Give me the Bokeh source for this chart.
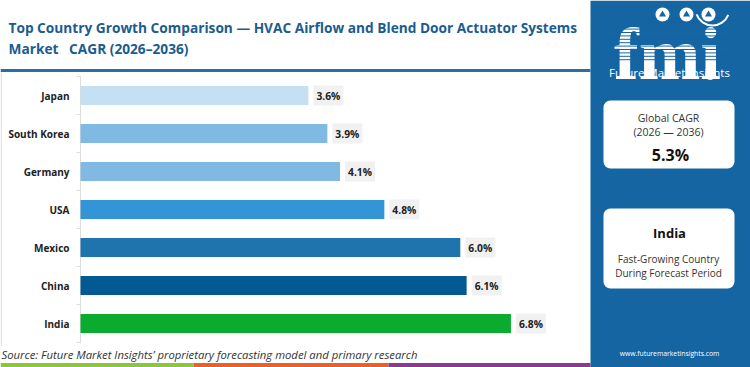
from bokeh.plotting import figure
from bokeh.models import Range1d, BoxAnnotation
from bokeh.core.properties import value
from bokeh.embed import file_html
from bokeh.resources import INLINE

# ---------------- data ----------------
countries = ["Japan", "South Korea", "Germany", "USA", "Mexico", "China", "India"]
cagr = [3.6, 3.9, 4.1, 4.8, 6.0, 6.1, 6.8]
bar_colors = ["#c4e0f2", "#80bae2", "#80bae2", "#3394d6", "#1f74ae", "#035a92", "#0bab2f"]
value_labels = [f"{v:.1f}%" for v in cagr]
title_lines = ["Top Country Growth Comparison \u2014 HVAC Airflow and Blend Door Actuator Systems",
               "Market\u00a0\u00a0\u00a0CAGR (2026\u20132036)"]
global_cagr_lines = ["Global CAGR", "(2026 \u2014 2036)"]
global_cagr_value = "5.3%"
fastest_country = "India"
fastest_lines = ["Fast-Growing Country", "During Forecast Period"]
brand = "Future Market Insights"
website = "www.futuremarketinsights.com"
source_note = "Source: Future Market Insights\u2019 proprietary forecasting model and primary research"

# ---------------- layout (reference pixel design space) ----------------
W, H = 750, 367
X0, PPU = 80, 63.3       # zero position and px per CAGR unit
ROW0, ROWSTEP = 95, 38   # first row centre and row spacing
FONT = "Open Sans"
BLUE = "#1565a3"

p = figure(width=W, height=H, output_backend="svg", toolbar_location=None, tools="",
           x_range=Range1d(-X0 / PPU, (W - X0) / PPU),
           y_range=Range1d((H - ROW0) / ROWSTEP, -ROW0 / ROWSTEP),
           x_axis_location=None, y_axis_location=None, min_border=0,
           outline_line_color=None, background_fill_color="white", border_fill_color="white")
p.xgrid.visible = False
p.ygrid.visible = False
p.extra_x_ranges = {"px": Range1d(0, W)}
p.extra_y_ranges = {"px": Range1d(H, 0)}
PX = dict(x_range_name="px", y_range_name="px")

# right blue panel
p.add_layout(BoxAnnotation(left=590, right=W, top=0, bottom=H, fill_color=BLUE, fill_alpha=1,
                           line_color=None, level="underlay", **PX))
# white cards
for top, bottom in [(100, 168), (208, 288)]:
    p.add_layout(BoxAnnotation(left=603, right=734, top=top, bottom=bottom, fill_color="white",
                               fill_alpha=1, line_color=None, border_radius=7, level="underlay", **PX))

# bottom colour strip
p.quad(left=[0, 193, 388], right=[193, 388, 590], top=[362.5] * 3, bottom=[H] * 3,
       fill_color=["#8cc63f", "#e8602c", "#8b3a8f"], line_color=None, **PX)

# title rule
p.segment(x0=[0], x1=[590], y0=[70], y1=[70], line_color="#2a6ea3", line_width=3, **PX)
# left faint border
p.segment(x0=[0.7], x1=[0.7], y0=[72], y1=[346], line_color="#dedede", line_width=1.2, **PX)

# title
p.text(x=[8, 8], y=[27, 48], text=title_lines, text_font=value(FONT), text_font_style="bold",
       text_font_size="13.7px", text_color="#1b5c8f", text_baseline="middle", **PX)

# axis line and ticks
p.segment(x0=[X0], x1=[X0], y0=[76], y1=[343], line_color="#dddddd", line_width=1, **PX)
ticks = [ROW0 + ROWSTEP * (i - 0.5) for i in range(len(countries) + 1)]
p.segment(x0=[X0 - 4] * len(ticks), x1=[X0] * len(ticks), y0=ticks, y1=ticks,
          line_color="#dddddd", line_width=1, **PX)

# bars
idx = list(range(len(countries)))
p.hbar(y=idx, left=0, right=cagr, height=0.5, fill_color=bar_colors, line_color=None)

# category labels
p.text(x=[0] * len(countries), y=idx, text=countries, x_offset=-11, text_align="right",
       text_baseline="middle", text_font=value(FONT), text_font_style="bold",
       text_font_size="10px", text_color="#222222")

# value labels
p.text(x=cagr, y=idx, text=value_labels, x_offset=5, text_align="left", text_baseline="middle",
       text_font=value(FONT), text_font_style="bold", text_font_size="10.3px", text_color="#222222",
       background_fill_color="#f1f1f1", padding=3)

# source
p.text(x=[1], y=[354], text=[source_note], text_font=value(FONT), text_font_style="italic",
       text_font_size="11.3px", text_color="#333333", text_baseline="middle", **PX)

# logo
p.text(x=[667], y=[53], text=["fmi"], text_align="center", text_baseline="alphabetic",
       text_font=value("Liberation Serif"), text_font_style="bold", text_font_size="74px",
       text_color="white", **PX)
stripes = [15 + 3.4 * k for k in range(14)]
p.segment(x0=[606] * len(stripes), x1=[730] * len(stripes), y0=stripes, y1=stripes,
          line_color=BLUE, line_width=1.0, **PX)
p.scatter(x=[662, 686, 708], y=[14, 14, 14], size=14, fill_color="white", line_color=None, **PX)
p.scatter(x=[662, 686, 708], y=[14, 14, 14], size=7, fill_color=BLUE, line_color=None,
          marker="triangle", **PX)
p.arc(x=[712], y=[8], radius=17, start_angle=3.5, end_angle=5.9, line_color="white",
      line_width=2, radius_units="data", **PX)
p.text(x=[669], y=[72], text=[brand], text_align="center", text_baseline="middle",
       text_font=value(FONT), text_font_size="11.5px", text_color="white", **PX)

# card 1
p.text(x=[668, 668], y=[117, 131], text=global_cagr_lines, text_align="center", text_baseline="middle",
       text_font=value(FONT), text_font_size="10.5px", text_color="#333333", **PX)
p.text(x=[670], y=[154], text=[global_cagr_value], text_align="center", text_baseline="middle",
       text_font=value(FONT), text_font_style="bold", text_font_size="16px", text_color="#111111", **PX)
# card 2
p.text(x=[669], y=[232], text=[fastest_country], text_align="center", text_baseline="middle",
       text_font=value(FONT), text_font_style="bold", text_font_size="13px", text_color="#111111", **PX)
p.text(x=[668, 668], y=[258, 272], text=fastest_lines, text_align="center", text_baseline="middle",
       text_font=value(FONT), text_font_size="10px", text_color="#333333", **PX)

# website
p.text(x=[669], y=[353], text=[website], text_align="center", text_baseline="middle",
       text_font=value(FONT), text_font_size="6.8px", text_color="white", **PX)

open("out.html", "w").write(file_html(p, INLINE))
